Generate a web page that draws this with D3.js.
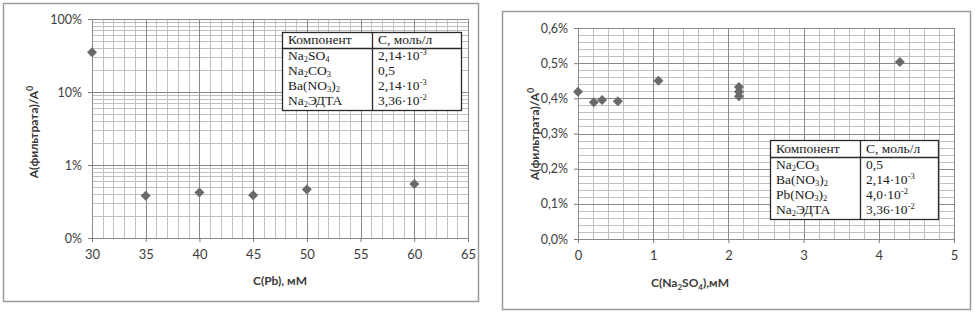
<!DOCTYPE html>
<html>
<head>
<meta charset="utf-8">
<script src="https://cdn.jsdelivr.net/npm/d3@7"></script>
<style>
  body { margin: 0; background: #fff; }
  .tick text { font-family: Lato, "Open Sans", sans-serif; fill: #3c3c3c; }
  .axis-title { font-family: Lato, "Open Sans", sans-serif; font-weight: bold; font-size: 12px; fill: #3a3a3a; }
  .tbl text { font-family: "Liberation Serif", "DejaVu Serif", serif; font-size: 13.5px; fill: #1a1a1a; }
</style>
</head>
<body>
<script>
// Левый график: отношение A(фильтрата)/A0 (%) от C(Pb), мМ (лог. шкала)
const pbConc  = [30, 35, 40, 45, 50, 60];
const pbRatio = [35, 0.38, 0.42, 0.385, 0.46, 0.55];
const pbYTicks = [0.1, 1, 10, 100];
const pbYLabels = ['0%', '1%', '10%', '100%'];
const pbXTicks = [30, 35, 40, 45, 50, 55, 60, 65];

// Правый график: от C(Na2SO4), мМ
const so4Conc  = [0, 0.21, 0.32, 0.53, 1.07, 2.14, 2.14, 2.14, 4.28];
const so4Ratio = [0.419, 0.389, 0.395, 0.392, 0.45, 0.432, 0.419, 0.406, 0.503];
const so4YTicks = [0, 0.1, 0.2, 0.3, 0.4, 0.5, 0.6];
const so4XTicks = [0, 1, 2, 3, 4, 5];

// Таблицы условий: [формула как части [текст, 'sub'|'sup'|''], концентрация]
const tableLeft = [
  [[['Na', ''], ['2', 'sub'], ['SO', ''], ['4', 'sub']], [['2,14·10', ''], ['-3', 'sup']]],
  [[['Na', ''], ['2', 'sub'], ['CO', ''], ['3', 'sub']], [['0,5', '']]],
  [[['Ba(NO', ''], ['3', 'sub'], [')', ''], ['2', 'sub']], [['2,14·10', ''], ['-3', 'sup']]],
  [[['Na', ''], ['2', 'sub'], ['ЭДТА', '']], [['3,36·10', ''], ['-2', 'sup']]]
];
const tableRight = [
  [[['Na', ''], ['2', 'sub'], ['CO', ''], ['3', 'sub']], [['0,5', '']]],
  [[['Ba(NO', ''], ['3', 'sub'], [')', ''], ['2', 'sub']], [['2,14·10', ''], ['-3', 'sup']]],
  [[['Pb(NO', ''], ['3', 'sub'], [')', ''], ['2', 'sub']], [['4,0·10', ''], ['-2', 'sup']]],
  [[['Na', ''], ['2', 'sub'], ['ЭДТА', '']], [['3,36·10', ''], ['-2', 'sup']]]
];

const WIDTH = 975, HEIGHT = 314;
const GRID_MINOR = '#c0c0c0', GRID_MAJOR = '#8a8a8a', MARK = '#6a6a6a';

const svg = d3.select('body').append('svg')
    .attr('width', WIDTH)
    .attr('height', HEIGHT);

// рамки панелей
svg.append('rect').attr('x', 3.5).attr('y', 3.5).attr('width', 475).attr('height', 298)
    .attr('fill', '#fff').attr('stroke', '#9a9a9a').attr('stroke-width', 1.5);
svg.append('rect').attr('x', 502.5).attr('y', 11.5).attr('width', 468).attr('height', 298)
    .attr('fill', '#fff').attr('stroke', '#9a9a9a').attr('stroke-width', 1.5);

const diamond = r => `M0,${-r}L${r},0L0,${r}L${-r},0Z`;

function hLines(g, vals, y, x0, x1, color) {
  g.selectAll(null).data(vals).enter().append('line')
      .attr('x1', x0).attr('x2', x1)
      .attr('y1', d => Math.round(y(d)) + 0.5).attr('y2', d => Math.round(y(d)) + 0.5)
      .attr('stroke', color).attr('stroke-width', 1);
}
function vLines(g, vals, x, y0, y1, color) {
  g.selectAll(null).data(vals).enter().append('line')
      .attr('y1', y0).attr('y2', y1)
      .attr('x1', d => Math.round(x(d)) + 0.5).attr('x2', d => Math.round(x(d)) + 0.5)
      .attr('stroke', color).attr('stroke-width', 1);
}

function drawTable(rows, x0, y0, w, colX, headH, rowH) {
  const g = svg.append('g').attr('class', 'tbl');
  const h = headH + rows.length * rowH + 2;
  g.append('rect').attr('x', x0 + 0.5).attr('y', y0 + 0.5).attr('width', w).attr('height', h)
      .attr('fill', '#fff').attr('stroke', '#2a2a2a').attr('stroke-width', 1.3);
  g.append('line').attr('x1', x0).attr('x2', x0 + w).attr('y1', y0 + headH + 0.5).attr('y2', y0 + headH + 0.5)
      .attr('stroke', '#2a2a2a').attr('stroke-width', 1.3);
  g.append('line').attr('x1', x0 + colX + 0.5).attr('x2', x0 + colX + 0.5).attr('y1', y0).attr('y2', y0 + h)
      .attr('stroke', '#2a2a2a').attr('stroke-width', 1.3);
  g.append('text').attr('x', x0 + 6).attr('y', y0 + headH - 4).text('Компонент');
  g.append('text').attr('x', x0 + colX + 6).attr('y', y0 + headH - 4).text('С, моль/л');
  rows.forEach((r, i) => {
    const yy = y0 + headH + (i + 1) * rowH - 3;
    [[r[0], x0 + 6], [r[1], x0 + colX + 6]].forEach(([parts, xx]) => {
      const t = g.append('text').attr('x', xx).attr('y', yy);
      let shift = 0;
      parts.forEach(([s, kind]) => {
        const sp = t.append('tspan').text(s);
        const target = kind === 'sub' ? 2 : kind === 'sup' ? -5 : 0;
        if (kind) sp.attr('font-size', '8.5px');
        if (target !== shift) sp.attr('dy', target - shift);
        shift = target;
      });
    });
  });
}

function styleAxis(g, size) {
  g.select('.domain').remove();
  g.selectAll('.tick line').attr('stroke', '#7a7a7a');
  g.selectAll('.tick text').attr('font-size', size);
}

// ---------- Левый график ----------
{
  const x = d3.scaleLinear().domain([30, 65]).range([92, 468]);
  const y = d3.scaleLog().domain([0.1, 100]).range([238, 19]);
  const g = svg.append('g');

  const minorY = [];
  [0.1, 1, 10].forEach(d => d3.range(2, 10).forEach(k => minorY.push(d * k)));
  vLines(g, d3.range(30, 66, 1).filter(d => d % 5 !== 0), x, 19, 238, GRID_MINOR);
  hLines(g, minorY, y, 92, 468, GRID_MINOR);
  vLines(g, pbXTicks, x, 19, 238, GRID_MAJOR);
  hLines(g, pbYTicks, y, 92, 468, GRID_MAJOR);

  g.append('g').attr('transform', 'translate(92,0)')
      .call(d3.axisLeft(y).tickValues(pbYTicks).tickFormat((d, i) => pbYLabels[i]).tickSize(4).tickPadding(6))
      .call(a => styleAxis(a, '12.5px'));
  g.append('g').attr('transform', 'translate(0,238)')
      .call(d3.axisBottom(x).tickValues(pbXTicks).tickFormat(d3.format('d')).tickSize(4).tickPadding(8))
      .call(a => styleAxis(a, '13px'));

  g.selectAll('.pt').data(pbConc).enter().append('path')
      .attr('class', 'pt')
      .attr('d', diamond(5))
      .attr('transform', (d, i) => `translate(${x(d)},${y(pbRatio[i])})`)
      .attr('fill', MARK);

  svg.append('text').attr('class', 'axis-title')
      .attr('x', 280).attr('y', 285).attr('text-anchor', 'middle').text('C(Pb), мМ');
  const yt = svg.append('text').attr('class', 'axis-title')
      .attr('transform', 'translate(38,132) rotate(-90)').attr('text-anchor', 'middle');
  yt.append('tspan').text('A(фильтрата)/A');
  yt.append('tspan').text('0').attr('font-size', '9px').attr('dy', -5);

  drawTable(tableLeft, 282, 32, 179, 90, 16, 15);
}

// ---------- Правый график ----------
{
  const x = d3.scaleLinear().domain([0, 5]).range([578, 954]);
  const y = d3.scaleLinear().domain([0, 0.6]).range([239, 28]);
  const g = svg.append('g');

  vLines(g, d3.range(0, 5.01, 0.2).filter(d => Math.abs(d - Math.round(d)) > 1e-6), x, 28, 239, GRID_MINOR);
  hLines(g, d3.range(0, 0.601, 0.02).filter(d => Math.abs(d * 10 - Math.round(d * 10)) > 1e-6), y, 578, 954, GRID_MINOR);
  vLines(g, so4XTicks, x, 28, 239, GRID_MAJOR);
  hLines(g, so4YTicks, y, 578, 954, GRID_MAJOR);

  g.append('g').attr('transform', 'translate(578,0)')
      .call(d3.axisLeft(y).tickValues(so4YTicks).tickFormat(d => d.toFixed(1).replace('.', ',') + '%').tickSize(4).tickPadding(6))
      .call(a => styleAxis(a, '12.5px'));
  g.append('g').attr('transform', 'translate(0,239)')
      .call(d3.axisBottom(x).tickValues(so4XTicks).tickFormat(d3.format('d')).tickSize(4).tickPadding(8))
      .call(a => styleAxis(a, '13px'));

  g.selectAll('.pt').data(so4Conc).enter().append('path')
      .attr('class', 'pt')
      .attr('d', diamond(5))
      .attr('transform', (d, i) => `translate(${x(d)},${y(so4Ratio[i])})`)
      .attr('fill', MARK);

  const xt = svg.append('text').attr('class', 'axis-title')
      .attr('x', 690).attr('y', 287).attr('text-anchor', 'middle');
  xt.append('tspan').text('C(Na');
  xt.append('tspan').text('2').attr('font-size', '8px').attr('dy', 3);
  xt.append('tspan').text('SO').attr('dy', -3);
  xt.append('tspan').text('4').attr('font-size', '8px').attr('dy', 3);
  xt.append('tspan').text('),мМ').attr('dy', -3);

  const yt = svg.append('text').attr('class', 'axis-title')
      .attr('transform', 'translate(539,134) rotate(-90)').attr('text-anchor', 'middle');
  yt.append('tspan').text('A(фильтрата)/A');
  yt.append('tspan').text('0').attr('font-size', '9px').attr('dy', -5);

  drawTable(tableRight, 770, 140, 168, 90, 17, 15);
}
</script>
</body>
</html>
